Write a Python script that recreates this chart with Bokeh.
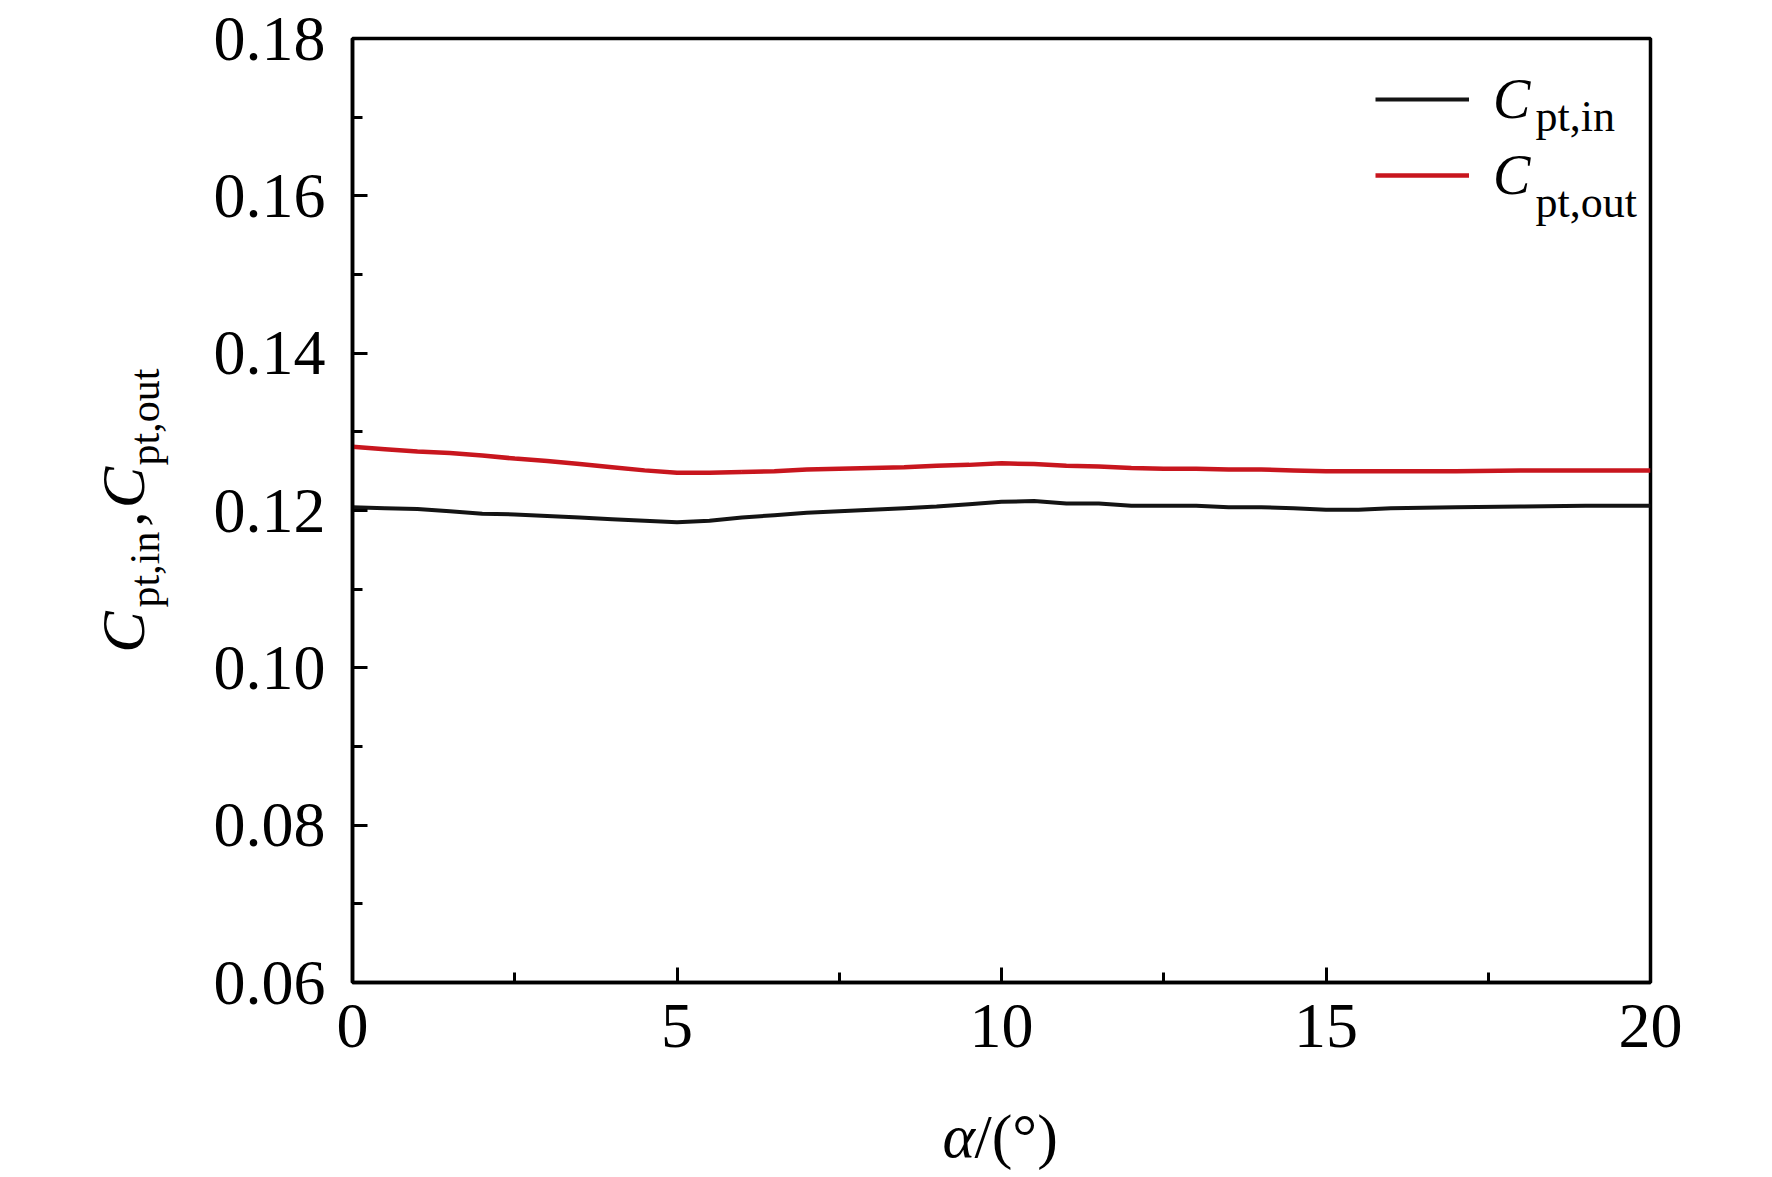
import math
from bokeh.plotting import figure
from bokeh.layouts import row, column
from bokeh.models import (Range1d, FixedTicker, PrintfTickFormatter, Label,
                          Legend, LegendItem)
from bokeh.core.properties import value
from bokeh.embed import file_html
from bokeh.resources import INLINE

# ---------------- data ----------------
alpha = [0, 0.5, 1, 1.5, 2, 2.5, 3, 3.5, 4, 4.5, 5, 5.5, 6, 6.5, 7, 7.5, 8, 8.5,
         9, 9.5, 10, 10.5, 11, 11.5, 12, 12.5, 13, 13.5, 14, 14.5, 15, 15.5, 16,
         17, 18, 19, 20]
cpt_in = [0.1204, 0.1203, 0.1202, 0.1199, 0.1196, 0.1195, 0.1193, 0.1191, 0.1189,
          0.1187, 0.1185, 0.1187, 0.1191, 0.1194, 0.1197, 0.1199, 0.1201, 0.1203,
          0.1205, 0.1208, 0.1211, 0.1212, 0.1209, 0.1209, 0.1206, 0.1206, 0.1206,
          0.1204, 0.1204, 0.1203, 0.1201, 0.1201, 0.1203, 0.1204, 0.1205, 0.1206,
          0.1206]
cpt_out = [0.1281, 0.1278, 0.1275, 0.1273, 0.1270, 0.1266, 0.1263, 0.1259, 0.1255,
           0.1251, 0.1248, 0.1248, 0.1249, 0.1250, 0.1252, 0.1253, 0.1254, 0.1255,
           0.1257, 0.1258, 0.1260, 0.1259, 0.1257, 0.1256, 0.1254, 0.1253, 0.1253,
           0.1252, 0.1252, 0.1251, 0.1250, 0.1250, 0.1250, 0.1250, 0.1251, 0.1251,
           0.1251]
x_ticks = [0, 5, 10, 15, 20]
x_minor = [2.5, 7.5, 12.5, 17.5]
y_ticks = [0.06, 0.08, 0.10, 0.12, 0.14, 0.16, 0.18]
y_minor = [0.07, 0.09, 0.11, 0.13, 0.15, 0.17]
series_names = ["pt,in", "pt,out"]

# ---------------- layout (page pixels) ----------------
X0, X1, Y0, Y1 = 0, 20, 0.06, 0.18
FL, FT, FW, FH = 352, 38, 1298, 944      # plot frame
PW, PH = 1772, 1177                      # page
WL = 185                                 # left strip holding the y title
HM = 1100                                # height of the main row
FONT = "Liberation Serif"
BIG, SUB, YSUB = 62, 44, 42              # font sizes
MID = 0.34                               # baseline -> text middle (em)


def at(sx, sy):
    """page pixel -> data coordinates of the main plot"""
    return (X0 + (sx - FL) / FW * (X1 - X0), Y1 - (sy - FT) / FH * (Y1 - Y0))


def blank(w, h, yr):
    f = figure(width=w, height=h, output_backend="svg", toolbar_location=None,
               x_range=Range1d(0, w), y_range=yr,
               x_axis_type=None, y_axis_type=None,
               min_border=0, min_border_left=0, min_border_right=0,
               min_border_top=0, min_border_bottom=0)
    f.outline_line_color = None
    f.background_fill_color = "white"
    f.border_fill_color = "white"
    f.grid.visible = False
    return f


# ---------------- main plot ----------------
p = figure(width=PW - WL, height=HM, output_backend="svg", toolbar_location=None,
           x_range=Range1d(X0, X1), y_range=Range1d(Y0, Y1),
           min_border_left=FL - WL, min_border_top=FT,
           min_border_right=PW - FL - FW,
           min_border_bottom=HM - FT - FH)
p.background_fill_color = "white"
p.border_fill_color = "white"
p.outline_line_color = "black"
p.outline_line_width = 3.5
p.xgrid.visible = False
p.ygrid.visible = False

for ax in (p.xaxis[0], p.yaxis[0]):
    ax.axis_line_width = 3.5
    ax.axis_line_color = "black"
    ax.major_tick_in = 15
    ax.major_tick_out = 0
    ax.minor_tick_in = 10
    ax.minor_tick_out = 0
    ax.major_tick_line_width = 3
    ax.minor_tick_line_width = 3
    ax.major_tick_line_color = "black"
    ax.minor_tick_line_color = "black"
    ax.major_label_text_font = FONT
    ax.major_label_text_font_size = "64px"
    ax.major_label_text_color = "black"

p.xaxis.ticker = FixedTicker(ticks=x_ticks, minor_ticks=x_minor)
p.yaxis.ticker = FixedTicker(ticks=y_ticks, minor_ticks=y_minor)
p.xaxis.formatter = PrintfTickFormatter(format="%d")
p.yaxis.formatter = PrintfTickFormatter(format="%.2f")
p.xaxis.major_label_standoff = 22
p.yaxis.major_label_standoff = 27

r_in = p.line(alpha, cpt_in, line_color="#141414", line_width=4)
r_out = p.line(alpha, cpt_out, line_color="#c8161e", line_width=4.5)

legend = Legend(items=[LegendItem(label=value("C"), renderers=[r_in]),
                       LegendItem(label=value("C"), renderers=[r_out])],
                location="top_right", margin=26, padding=0, spacing=6,
                glyph_width=94, glyph_height=70, label_height=70,
                label_width=131, label_standoff=24,
                label_text_font=FONT, label_text_font_style="italic",
                label_text_font_size="56px", label_text_color="black",
                border_line_alpha=0, background_fill_alpha=0)
p.add_layout(legend)

# legend subscripts (baseline at page y 131 / 217)
for name, base in zip(series_names, [131, 217]):
    x, y = at(1535, base - MID * SUB)
    p.add_layout(Label(x=x, y=y, text=name, text_font=FONT,
                       text_font_size=f"{SUB}px", text_color="black",
                       text_align="left", text_baseline="middle"))

# ---------------- y title strip: C_pt,in, C_pt,out (rotated) ----------------
# its frame is aligned with the main frame, so use page y directly
left = blank(WL, HM, Range1d(FT + FH, FT))
# (text, baseline x, start y, end y, size, style)
pieces = [("C", 144, 653, 610, BIG, "italic"),
          (series_names[0], 159, 610, 528, YSUB, "normal"),
          (",", 144, 527, 510, BIG, "normal"),
          ("C", 144, 508, 466, BIG, "italic"),
          (series_names[1], 159, 464, 369, YSUB, "normal")]
for txt, bx, y0, y1, fs, st in pieces:
    left.add_layout(Label(x=bx - MID * fs, y=(y0 + y1) / 2, text=txt,
                          text_font=FONT, text_font_style=st,
                          text_font_size=f"{fs}px", angle=math.pi / 2,
                          text_align="center", text_baseline="middle",
                          text_color="black"))

# ---------------- x title strip: α/(°) ----------------
bottom = blank(PW, PH - HM, Range1d(PH - HM, 0))
ymid = 1157 - MID * BIG - HM
bottom.add_layout(Label(x=942, y=ymid, text="α", text_font=FONT,
                        text_font_style="italic", text_font_size=f"{BIG}px",
                        text_align="left", text_baseline="middle",
                        text_color="black"))
bottom.add_layout(Label(x=974, y=ymid, text="/(°)", text_font=FONT,
                        text_font_size=f"{BIG}px", text_align="left",
                        text_baseline="middle", text_color="black"))

page = column(row(left, p, spacing=0), bottom, spacing=0)
open("out.html", "w").write(file_html(page, INLINE))
